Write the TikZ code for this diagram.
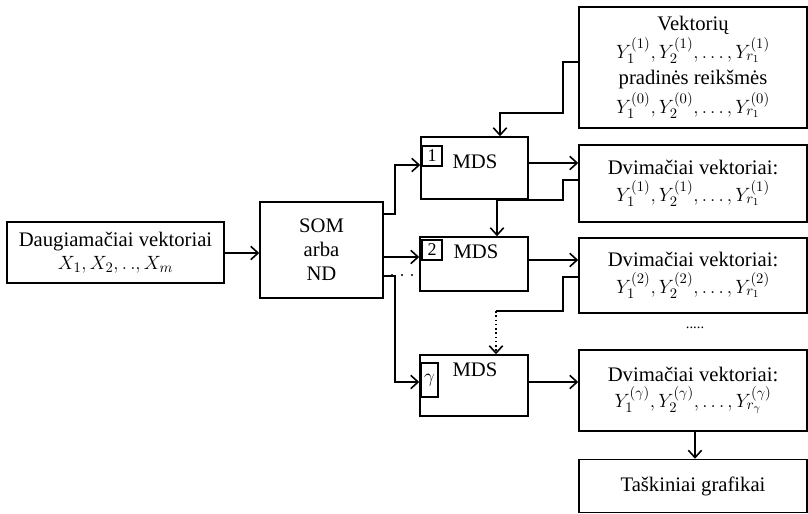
\documentclass[tikz,border=0pt]{standalone}
\usepackage{fontspec}
\setmainfont{Liberation Serif}
\usetikzlibrary{arrows.meta}
\begin{document}
\begin{tikzpicture}[x=0.75pt,y=-0.75pt,
  box/.style={draw,line width=1.1pt,inner sep=0pt,align=center,font=\fontsize{15.5}{18}\selectfont},
  lbl/.style={draw,line width=0.9pt,inner sep=0pt,font=\fontsize{13.5}{14}\selectfont},
  conn/.style={line width=1.2pt},
  arr/.style={line width=1.2pt,-{Straight Barb[length=5.5pt,width=10pt]}},
  txt/.style={font=\fontsize{15.5}{18}\selectfont}]
\useasboundingbox (0,0) rectangle (808,514);
% boxes
\node[box,minimum width=217*0.75pt,minimum height=61*0.75pt] (in) at (115.5,252.5)
  {Daugiamačiai vektoriai\\[-1pt] $X_1, X_2, .\,., X_m$};
\node[box,minimum width=123*0.75pt,minimum height=96*0.75pt] (som) at (321.5,250)
  {SOM\\arba\\ND};
\node[box,minimum width=107*0.75pt,minimum height=62*0.75pt] (mds1) at (474.5,168) {};
\node[box,minimum width=108*0.75pt,minimum height=54*0.75pt] (mds2) at (474,264) {};
\node[box,minimum width=108*0.75pt,minimum height=61*0.75pt] (mdsg) at (474,385.5) {};
\node[txt] (t1) at (475,162) {MDS};
\node[txt] (t2) at (476,252) {MDS};
\node[txt] (tg) at (475,370) {MDS};
\node[lbl,minimum width=20*0.75pt,minimum height=20*0.75pt] (l1) at (432,156) {1};
\node[lbl,minimum width=20*0.75pt,minimum height=20*0.75pt] (l2) at (432,250) {2};
\node[lbl,minimum width=17*0.75pt,minimum height=34*0.75pt] (lg) at (429.5,380) {$\gamma$};
\node[box,minimum width=228*0.75pt,minimum height=121*0.75pt] (vek) at (693,67.5)
  {Vektorių\\[1pt] $Y_1^{(1)}, Y_2^{(1)}, \ldots, Y_{r_1}^{(1)}$\\[1pt] pradinės reikšmės\\[2pt] $Y_1^{(0)}, Y_2^{(0)}, \ldots, Y_{r_1}^{(0)}$};
\node[box,minimum width=228*0.75pt,minimum height=77*0.75pt] (dv1) at (693,183.5)
  {Dvimačiai vektoriai:\\[2pt] $Y_1^{(1)}, Y_2^{(1)}, \ldots, Y_{r_1}^{(1)}$};
\node[box,minimum width=228*0.75pt,minimum height=75*0.75pt] (dv2) at (693,275.5)
  {Dvimačiai vektoriai:\\[2pt] $Y_1^{(2)}, Y_2^{(2)}, \ldots, Y_{r_1}^{(2)}$};
\node[box,minimum width=228*0.75pt,minimum height=81*0.75pt] (dvg) at (693,390.5)
  {Dvimačiai vektoriai:\\[2pt] $Y_1^{(\gamma)}, Y_2^{(\gamma)}, \ldots, Y_{r_\gamma}^{(\gamma)}$};
\node[box,minimum width=228*0.75pt,minimum height=53*0.75pt] (task) at (693,486)
  {Taškiniai grafikai};
\node[font=\fontsize{11}{12}\selectfont] (dots) at (695,328) {.....};
% connectors
\draw[arr] (in.east |- 0,253) -- (som.west |- 0,253);
\draw[arr] (som.east |- 0,214) -- (395,214) -- (395,165) -- (mds1.west |- 0,165);
\draw[arr] (som.east |- 0,257) -- (mds2.west |- 0,257);
\draw[arr] (som.east |- 0,276) -- (395,276) -- (395,382) -- (mdsg.west |- 0,382);
\foreach \x in {392,402,412} \fill (\x,275) circle (1.2);
\draw[arr] (mds1.east |- 0,163) -- (dv1.west |- 0,163);
\draw[arr] (mds2.east |- 0,260) -- (dv2.west |- 0,260);
\draw[arr] (mdsg.east |- 0,382) -- (dvg.west |- 0,382);
\draw[arr] (vek.west |- 0,62) -- (563,62) -- (563,113) -- (500,113) -- (mds1.north -| 500,0);
\draw[arr] (dv1.west |- 0,180) -- (563,180) -- (563,200) -- (497,200) -- (mds2.north -| 497,0);
\draw[conn] (dv2.west |- 0,277) -- (563,277) -- (563,311) -- (496,311);
\draw[arr,dotted] (496,311) -- (mdsg.north -| 496,0);
\draw[arr] (dvg.south -| 695,0) -- (task.north -| 695,0);
\end{tikzpicture}
\end{document}
